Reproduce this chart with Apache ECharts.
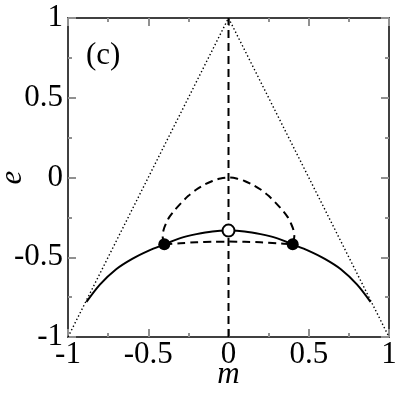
<!DOCTYPE html>
<html>
<head>
<meta charset="utf-8">
<script src="https://cdn.jsdelivr.net/npm/echarts@6/dist/echarts.min.js"></script>
<style>
html,body{margin:0;padding:0;background:#fff;}
#c{width:407px;height:405px;}
</style>
</head>
<body>
<div id="c"></div>
<script>
// ---- data ----
var tickLabelsX = ['-1', '-0.5', '0', '0.5', '1'];
var tickLabelsY = ['-1', '-0.5', '0', '0.5', '1'];
// dotted triangle boundary
var dottedLine = [[-1, -1], [0, 1], [1, -1]];
// vertical dashed line at m = 0
var verticalDashed = [[0, -1], [0, 1]];
// upper dashed dome
var domeDashed = [
  [-0.40, -0.419], [-0.41, -0.37], [-0.405, -0.33], [-0.39, -0.29], [-0.37, -0.25],
  [-0.34, -0.21], [-0.30, -0.165], [-0.25, -0.115], [-0.20, -0.075], [-0.15, -0.045],
  [-0.10, -0.022], [-0.05, -0.006], [0, 0],
  [0.05, -0.006], [0.10, -0.022], [0.15, -0.045], [0.20, -0.075], [0.25, -0.115],
  [0.30, -0.165], [0.34, -0.21], [0.37, -0.25], [0.39, -0.29], [0.405, -0.33],
  [0.41, -0.37], [0.40, -0.419]
];
// lower dashed curve
var lowerDashed = [
  [-0.40, -0.419], [-0.30, -0.412], [-0.20, -0.406], [-0.10, -0.403], [0, -0.402],
  [0.10, -0.403], [0.20, -0.406], [0.30, -0.412], [0.40, -0.419]
];
// solid curve
var solidCurve = [
  [-0.885, -0.78], [-0.80, -0.67], [-0.70, -0.575], [-0.60, -0.51], [-0.50, -0.46],
  [-0.40, -0.419], [-0.30, -0.38], [-0.20, -0.355], [-0.10, -0.338], [0, -0.333],
  [0.10, -0.338], [0.20, -0.355], [0.30, -0.38], [0.40, -0.419], [0.50, -0.46],
  [0.60, -0.51], [0.70, -0.575], [0.80, -0.67], [0.885, -0.78]
];
var filledPoints = [[-0.40, -0.419], [0.40, -0.419]];
var openPoints = [[0, -0.333]];

var FONT = '"Liberation Serif", "DejaVu Serif", serif';
var chart = echarts.init(document.getElementById('c'), null, {renderer: 'canvas'});

function axisCommon(showLabels, pos) {
  return {
    type: 'value', min: -1, max: 1, interval: 0.5,
    position: pos,
    axisLine: {show: true, onZero: false, lineStyle: {color: '#404040', width: 2}},
    axisTick: {show: true, inside: true, length: 8, lineStyle: {color: '#909090', width: 2}},
    minorTick: {show: true, splitNumber: 2, length: 4, lineStyle: {color: '#909090', width: 2}},
    splitLine: {show: false},
    minorSplitLine: {show: false},
    axisLabel: {show: showLabels, color: '#000', fontFamily: FONT, fontSize: 31, hideOverlap: false},
  };
}

var xBottom = axisCommon(true, 'bottom');
xBottom.axisLabel.margin = 2;
xBottom.axisLabel.formatter = function (v) { return tickLabelsX[Math.round((v + 1) / 0.5)]; };
xBottom.name = 'm';
xBottom.nameLocation = 'middle';
xBottom.nameGap = 22;
xBottom.nameMoveOverlap = false;
xBottom.nameTextStyle = {fontFamily: FONT, fontSize: 31, fontStyle: 'italic', color: '#000'};

var xTop = axisCommon(false, 'top');

var yLeft = axisCommon(true, 'left');
yLeft.axisLabel.margin = 5;
yLeft.axisLabel.formatter = function (v) { return tickLabelsY[Math.round((v + 1) / 0.5)]; };
yLeft.name = 'e';
yLeft.nameLocation = 'middle';
yLeft.nameGap = 40;
yLeft.nameMoveOverlap = false;
yLeft.nameTextStyle = {fontFamily: FONT, fontSize: 31, fontStyle: 'italic', color: '#000'};

var yRight = axisCommon(false, 'right');

function lineSeries(data, type, width, smooth) {
  return {
    type: 'line', data: data, xAxisIndex: 0, yAxisIndex: 0,
    showSymbol: false, symbol: 'none', smooth: smooth, silent: true,
    lineStyle: {color: '#000', width: width, type: type},
    animation: false
  };
}

chart.setOption({
  animation: false,
  backgroundColor: '#fff',
  grid: {left: 68, right: 18, top: 18, bottom: 68, containLabel: false, outerBoundsMode: 'none'},
  xAxis: [xBottom, xTop],
  yAxis: [yLeft, yRight],
  graphic: [{
    type: 'text', left: 86, top: 40,
    style: {text: '(c)', fontFamily: FONT, fontSize: 31, fill: '#000'}
  }],
  series: [
    lineSeries(dottedLine, [1.4, 2.4], 1.4, false),
    lineSeries(verticalDashed, [8, 5], 2, false),
    lineSeries(domeDashed, [8, 5], 2, 0.3),
    lineSeries(lowerDashed, [8, 5], 2, 0.3),
    lineSeries(solidCurve, 'solid', 2, 0.3),
    {
      type: 'scatter', data: filledPoints, symbol: 'circle', symbolSize: 12,
      itemStyle: {color: '#000', opacity: 1}, silent: true, z: 5
    },
    {
      type: 'scatter', data: openPoints, symbol: 'circle', symbolSize: 12,
      itemStyle: {color: '#fff', borderColor: '#000', borderWidth: 2, opacity: 1}, silent: true, z: 5
    }
  ]
});
</script>
</body>
</html>
